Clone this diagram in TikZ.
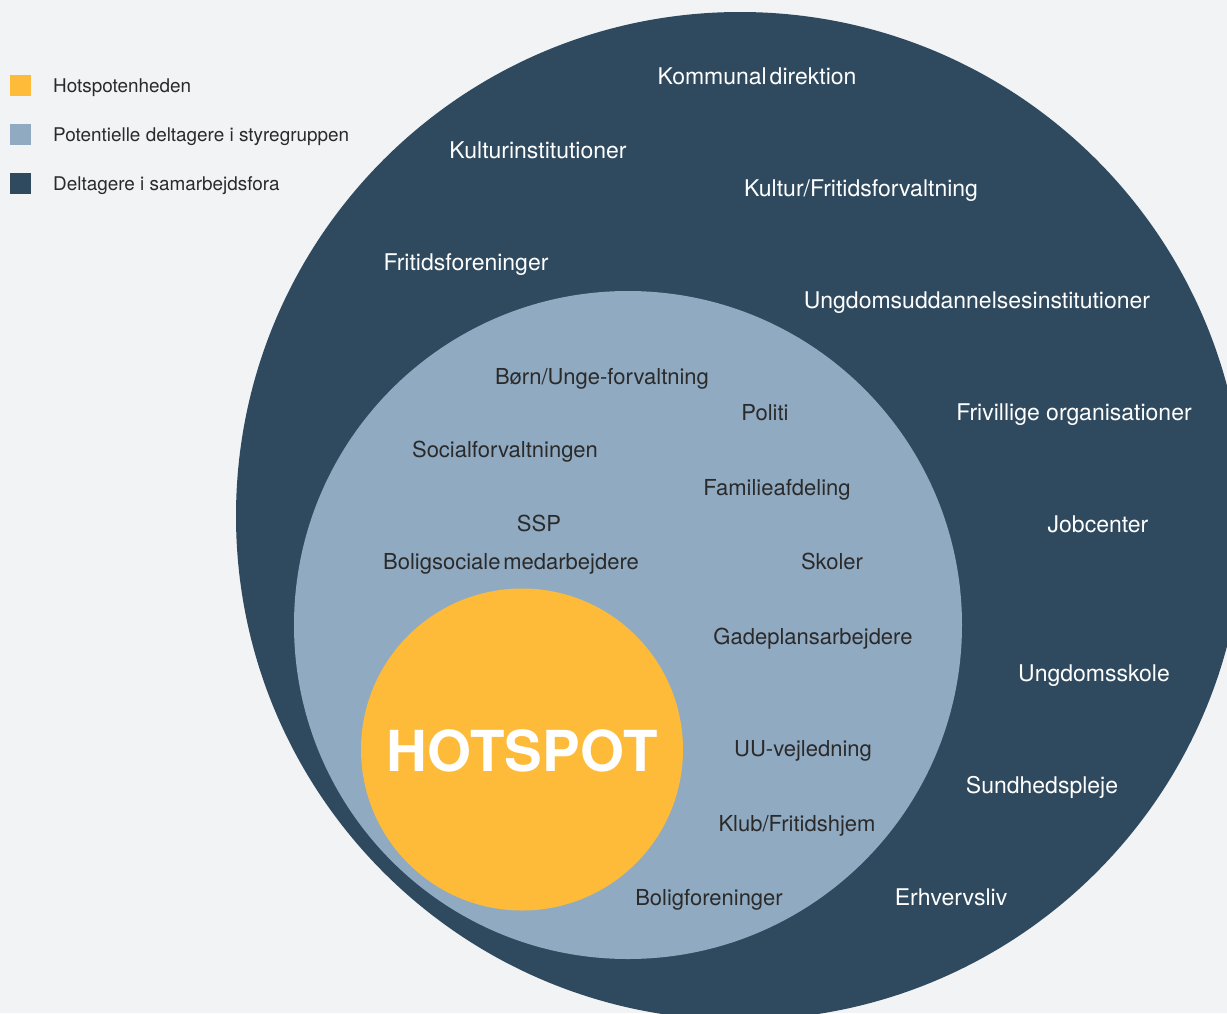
\documentclass[tikz,border=0pt]{standalone}
\usepackage{fontspec}
\setmainfont{TeX Gyre Heros}
\definecolor{bg}{HTML}{F2F3F5}
\definecolor{darkring}{HTML}{2F4A5E}
\definecolor{lightring}{HTML}{90AAC2}
\definecolor{hotyellow}{HTML}{FDBB39}
\definecolor{inktext}{HTML}{2A2A2A}
\tikzset{
  outerlbl/.style={anchor=base, text=white, inner sep=0pt, font=\fontsize{23}{27}\selectfont},
  innerlbl/.style={anchor=base, text=inktext, inner sep=0pt, font=\fontsize{22}{26}\selectfont},
  legendbox/.style={minimum size=21pt, inner sep=0pt, anchor=center},
  legendlbl/.style={anchor=base west, text=inktext, inner sep=0pt, font=\fontsize{18.9}{22}\selectfont},
}
\begin{document}
\begin{tikzpicture}[x=1pt,y=-1pt]
\clip (0,0) rectangle (1227,1013);
\fill[bg] (0,0) rectangle (1227,1013);
% circles
\fill[darkring] (740,516) circle [radius=504pt];
\fill[lightring] (628,625) circle [radius=334pt];
\fill[hotyellow] (522,749.5) circle [radius=161pt];
\node[anchor=center, text=white, inner sep=0pt, font=\bfseries\fontsize{56.5}{60}\selectfont] (hot) at (522,751) {HOTSPOT};
% legend
\node[legendbox, fill=hotyellow] (lg1) at (20.5,85.5) {};
\node[legendbox, fill=lightring] (lg2) at (20.5,134.5) {};
\node[legendbox, fill=darkring] (lg3) at (20.5,183.5) {};
\node[legendlbl] (lt1) at (53,92.5) {Hotspotenheden};
\node[legendlbl] (lt2) at (53,141.5) {Potentielle deltagere i styregruppen};
\node[legendlbl] (lt3) at (53,190.5) {Deltagere i samarbejdsfora};
% outer ring labels
\node[outerlbl] (o1) at (757,84) {Kommunal\hspace{-0.15em} direktion};
\node[outerlbl] (o2) at (538,158) {Kulturinstitutioner};
\node[outerlbl] (o3) at (861,196) {Kultur/Fritidsforvaltning};
\node[outerlbl] (o4) at (466,270) {Fritidsforeninger};
\node[outerlbl] (o5) at (977,308) {Ungdomsuddannelsesinstitutioner};
\node[outerlbl] (o6) at (1074,420) {Frivillige organisationer};
\node[outerlbl] (o7) at (1098,532) {Jobcenter};
\node[outerlbl] (o8) at (1094,681) {Ungdomsskole};
\node[outerlbl] (o9) at (1042,793) {Sundhedspleje};
\node[outerlbl] (o10) at (951,905) {Erhvervsliv};
% inner ring labels
\node[innerlbl] (i1) at (602,384) {Børn/Unge-forvaltning};
\node[innerlbl] (i2) at (765,420) {Politi};
\node[innerlbl] (i3) at (505,457) {Socialforvaltningen};
\node[innerlbl] (i4) at (777,495) {Familieafdeling};
\node[innerlbl] (i5) at (539,531) {SSP};
\node[innerlbl] (i6) at (511,569) {Boligsociale\hspace{-0.15em} medarbejdere};
\node[innerlbl] (i7) at (832,569) {Skoler};
\node[innerlbl] (i8) at (813,644) {Gadeplansarbejdere};
\node[innerlbl] (i9) at (803,756) {UU-vejledning};
\node[innerlbl] (i10) at (797,831) {Klub/Fritidshjem};
\node[innerlbl] (i11) at (709,905) {Boligforeninger};
\end{tikzpicture}
\end{document}
